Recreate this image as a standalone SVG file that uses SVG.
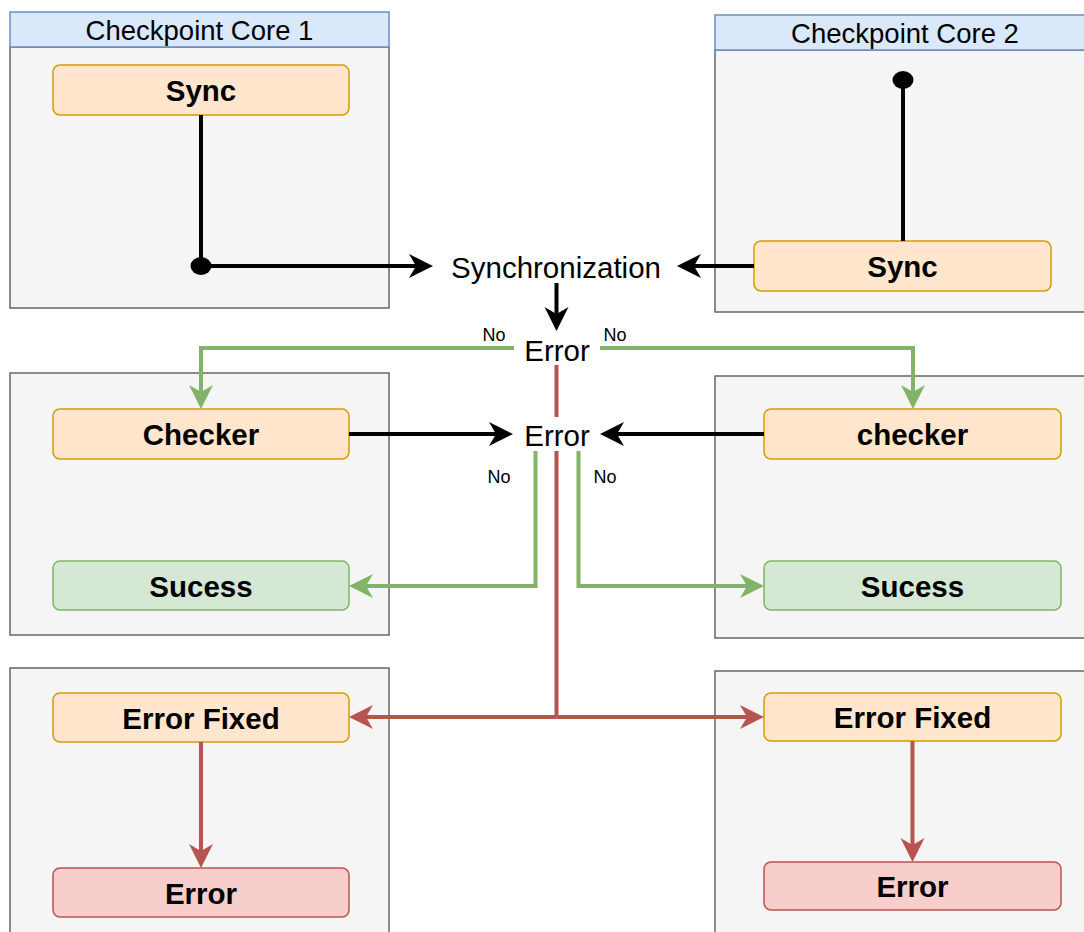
<svg xmlns="http://www.w3.org/2000/svg" width="1084" height="932" viewBox="0 0 1084 932">
  <style>
    .frame { fill: #f5f5f5; stroke: #666666; stroke-width: 1.5; }
    .head { fill: #dae8fc; stroke: #6c8ebf; stroke-width: 1.5; }
    .orange { fill: #ffe6cc; stroke: #d79b00; stroke-width: 1.5; }
    .green { fill: #d5e8d4; stroke: #82b366; stroke-width: 1.5; }
    .red { fill: #f8cecc; stroke: #b85450; stroke-width: 1.5; }
    .title { font-family: "Liberation Sans", Arial, sans-serif; font-size: 27.5px; fill: #000; text-anchor: middle; }
    .bold { font-family: "Liberation Sans", Arial, sans-serif; font-size: 29.5px; font-weight: bold; fill: #000; text-anchor: middle; }
    .plain { font-family: "Liberation Sans", Arial, sans-serif; font-size: 29.5px; fill: #000; text-anchor: middle; }
    .small { font-family: "Liberation Sans", Arial, sans-serif; font-size: 18px; fill: #000; text-anchor: middle; }
    .k { fill: none; stroke: #000; stroke-width: 4; }
    .g { fill: none; stroke: #82b366; stroke-width: 4; }
    .r { fill: none; stroke: #b85450; stroke-width: 4; }
  </style>
  <defs>
    <marker id="arrK" markerUnits="userSpaceOnUse" markerWidth="26" markerHeight="26" refX="7" refY="12" orient="auto">
      <path d="M0,0 L24,12 L0,24 L7,12 Z" fill="#000"/>
    </marker>
    <marker id="arrG" markerUnits="userSpaceOnUse" markerWidth="26" markerHeight="26" refX="7" refY="12" orient="auto">
      <path d="M0,0 L24,12 L0,24 L7,12 Z" fill="#82b366"/>
    </marker>
    <marker id="arrR" markerUnits="userSpaceOnUse" markerWidth="26" markerHeight="26" refX="7" refY="12" orient="auto">
      <path d="M0,0 L24,12 L0,24 L7,12 Z" fill="#b85450"/>
    </marker>
  </defs>

  <rect width="1084" height="932" fill="#ffffff"/>

  <!-- core 1, top section -->
  <g id="core1">
    <rect class="frame" x="10" y="47" width="379" height="261"/>
    <rect class="head" x="10" y="12" width="379" height="35"/>
    <text class="title" x="199.5" y="40">Checkpoint Core 1</text>
  </g>
  <g id="sync1">
    <rect class="orange" x="53" y="65" width="296" height="50" rx="7"/>
    <text class="bold" x="201" y="101">Sync</text>
  </g>

  <!-- core 2, top section -->
  <g id="core2">
    <rect class="frame" x="715" y="50" width="380" height="262"/>
    <rect class="head" x="715" y="15" width="380" height="35"/>
    <text class="title" x="905" y="43">Checkpoint Core 2</text>
  </g>
  <g id="sync2">
    <rect class="orange" x="754" y="241" width="297" height="50" rx="7"/>
    <text class="bold" x="902.5" y="277">Sync</text>
  </g>

  <!-- core 1, check section -->
  <g id="core1-check">
    <rect class="frame" x="10" y="373" width="379" height="262"/>
  </g>
  <g id="checker1">
    <rect class="orange" x="53" y="409" width="296" height="50" rx="7"/>
    <text class="bold" x="201" y="445">Checker</text>
  </g>
  <g id="success1">
    <rect class="green" x="53" y="561" width="296" height="49" rx="7"/>
    <text class="bold" x="201" y="596.5">Sucess</text>
  </g>

  <!-- core 2, check section -->
  <g id="core2-check">
    <rect class="frame" x="715" y="376" width="380" height="262"/>
  </g>
  <g id="checker2">
    <rect class="orange" x="764" y="409" width="297" height="50" rx="7"/>
    <text class="bold" x="912.5" y="445">checker</text>
  </g>
  <g id="success2">
    <rect class="green" x="764" y="561" width="297" height="49" rx="7"/>
    <text class="bold" x="912.5" y="596.5">Sucess</text>
  </g>

  <!-- core 1, recovery section -->
  <g id="core1-recovery">
    <rect class="frame" x="10" y="668" width="379" height="280"/>
  </g>
  <g id="fixed1">
    <rect class="orange" x="53" y="693" width="296" height="49" rx="7"/>
    <text class="bold" x="201" y="728.5">Error Fixed</text>
  </g>
  <g id="error1">
    <rect class="red" x="53" y="868" width="296" height="49" rx="7"/>
    <text class="bold" x="201" y="903.5">Error</text>
  </g>

  <!-- core 2, recovery section -->
  <g id="core2-recovery">
    <rect class="frame" x="715" y="671" width="380" height="280"/>
  </g>
  <g id="fixed2">
    <rect class="orange" x="764" y="693" width="297" height="48" rx="7"/>
    <text class="bold" x="912.5" y="728">Error Fixed</text>
  </g>
  <g id="error2">
    <rect class="red" x="764" y="862" width="297" height="48" rx="7"/>
    <text class="bold" x="912.5" y="897">Error</text>
  </g>

  <!-- free-standing labels -->
  <g id="sync-point">
    <text class="plain" x="556" y="278">Synchronization</text>
  </g>
  <g id="sync-error">
    <text class="plain" x="557" y="361">Error</text>
  </g>
  <g id="check-error">
    <text class="plain" x="557" y="446">Error</text>
  </g>

  <!-- connectors -->
  <g id="connectors">
    <!-- synchronization -->
    <path class="k" d="M201,115 V266 H416" marker-end="url(#arrK)"/>
    <ellipse cx="201" cy="266" rx="10.5" ry="9" fill="#000"/>
    <path class="k" d="M903,80 V241"/>
    <ellipse cx="903" cy="80" rx="10.5" ry="9" fill="#000"/>
    <path class="k" d="M754,266 H694" marker-end="url(#arrK)"/>
    <path class="k" d="M556.5,283 V314" marker-end="url(#arrK)"/>

    <!-- no error after sync: go to the checkers -->
    <path class="g" d="M514,348 H201 V392" marker-end="url(#arrG)"/>
    <path class="g" d="M600,348 H913 V392" marker-end="url(#arrG)"/>
    <text class="small" x="494" y="341">No</text>
    <text class="small" x="615" y="341">No</text>

    <!-- checkers feed the comparison -->
    <path class="k" d="M349,434 H496" marker-end="url(#arrK)"/>
    <path class="k" d="M764,434 H617" marker-end="url(#arrK)"/>

    <!-- no error after check: success -->
    <path class="g" d="M535.5,451 V586 H366" marker-end="url(#arrG)"/>
    <path class="g" d="M578.5,451 V586 H747" marker-end="url(#arrG)"/>
    <text class="small" x="499" y="483">No</text>
    <text class="small" x="605" y="483">No</text>

    <!-- error path -->
    <path class="r" d="M556.5,365 V417"/>
    <path class="r" d="M556.5,451 V717"/>
    <path class="r" d="M556.5,717 H366" marker-end="url(#arrR)"/>
    <path class="r" d="M556.5,717 H747" marker-end="url(#arrR)"/>
    <path class="r" d="M201,742 V851" marker-end="url(#arrR)"/>
    <path class="r" d="M912.5,741 V845" marker-end="url(#arrR)"/>
  </g>
</svg>
